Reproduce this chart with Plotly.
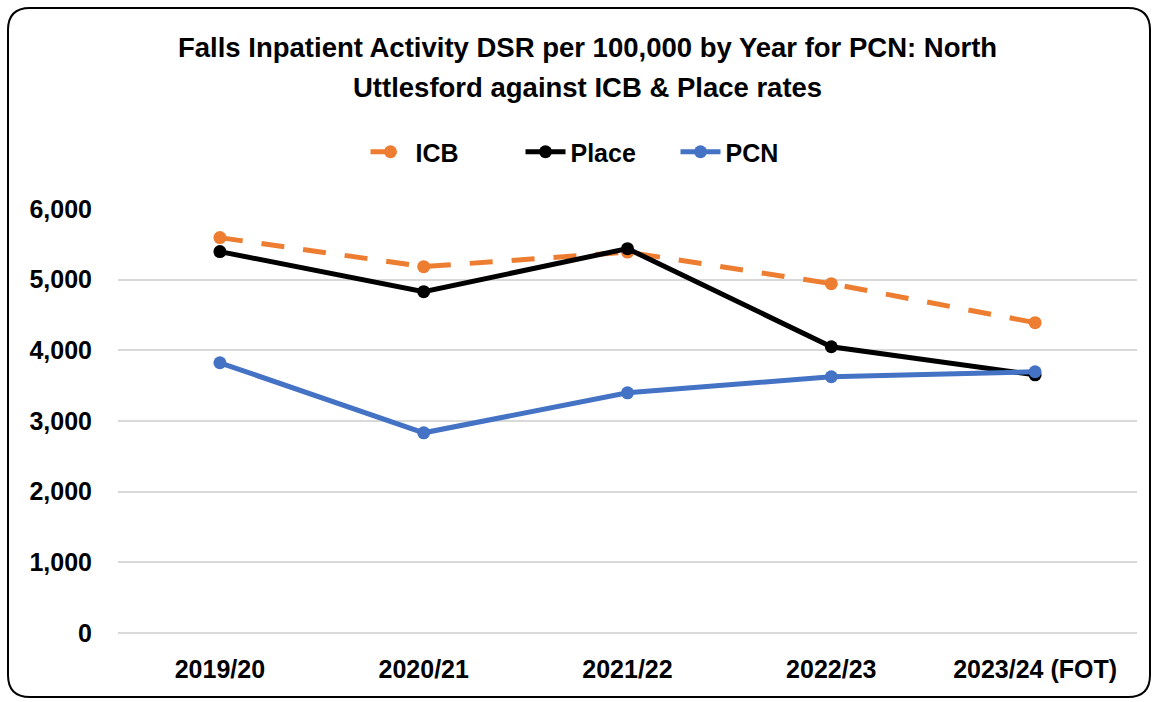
import plotly.graph_objects as go

years = ["2019/20", "2020/21", "2021/22", "2022/23", "2023/24 (FOT)"]
icb = [5595, 5184, 5390, 4943, 4391]
place = [5397, 4830, 5439, 4051, 3654]
pcn = [3824, 2833, 3399, 3626, 3697]
y_ticks = [0, 1000, 2000, 3000, 4000, 5000, 6000]

FONT = "Liberation Sans, Arial"

fig = go.Figure()
fig.add_trace(go.Scatter(x=years, y=icb, name="ICB", mode="lines+markers",
                         line=dict(color="#ED7D31", width=5, dash="23px,19px"),
                         marker=dict(size=13, color="#ED7D31")))
fig.add_trace(go.Scatter(x=years, y=place, name="Place", mode="lines+markers",
                         line=dict(color="#000000", width=5),
                         marker=dict(size=13, color="#000000")))
fig.add_trace(go.Scatter(x=years, y=pcn, name="PCN", mode="lines+markers",
                         line=dict(color="#4472C4", width=5),
                         marker=dict(size=13, color="#4472C4")))

L, R, T, B = 118, 1137, 209, 633
W, H = 1158, 702
pw, ph = R - L, B - T
def px(x): return (x - L) / pw
def py(y): return (B - y) / ph
x0, x1, y0, y1 = px(8), px(1150), py(697), py(8)
rx, ry = 22 / pw, 22 / ph
path = (f"M {x0+rx},{y1} L {x1-rx},{y1} Q {x1},{y1} {x1},{y1-ry} "
        f"L {x1},{y0+ry} Q {x1},{y0} {x1-rx},{y0} L {x0+rx},{y0} "
        f"Q {x0},{y0} {x0},{y0+ry} L {x0},{y1-ry} Q {x0},{y1} {x0+rx},{y1} Z")

title_lines = ["Falls Inpatient Activity DSR per 100,000 by Year for PCN: North",
               "Uttlesford against ICB &amp; Place rates"]
title_y = [48, 88]

fig.update_layout(
    width=W, height=H,
    margin=dict(l=L, r=W - R, t=T, b=H - B),
    paper_bgcolor="white", plot_bgcolor="white",
    font=dict(family=FONT, color="#000000"),
    legend=dict(orientation="h", x=px(598), xanchor="center", y=py(152), yanchor="middle",
                font=dict(size=25, family=FONT, weight="bold"),
                entrywidth=100, entrywidthmode="pixels", itemwidth=40,
                bgcolor="rgba(0,0,0,0)", tracegroupgap=0),
    xaxis=dict(range=[-0.5, 4.5], showgrid=False, showline=False, ticks="",
               tickfont=dict(size=25, family=FONT, weight="bold"), ticklabelstandoff=19),
    yaxis=dict(range=[0, 6000], tickvals=y_ticks, tickformat=",",
               showgrid=True, gridcolor="#D9D9D9", gridwidth=2,
               zeroline=True, zerolinecolor="#D9D9D9", zerolinewidth=2,
               showline=False, ticks="", ticklabelstandoff=25,
               tickfont=dict(size=25, family=FONT, weight="bold")),
    shapes=[dict(type="path", xref="paper", yref="paper", path=path,
                 line=dict(color="#000000", width=2), layer="below")],
    annotations=[dict(text=f"<b>{t}</b>", xref="paper", yref="paper",
                      x=px(587), y=py(yy), xanchor="center", yanchor="middle",
                      showarrow=False, font=dict(size=27.5, family=FONT, color="#000000"))
                 for t, yy in zip(title_lines, title_y)],
    showlegend=True,
)

fig.write_html("out.html", config={"displayModeBar": False},
               post_script="document.body.style.margin='0';document.body.style.overflow='hidden';")
